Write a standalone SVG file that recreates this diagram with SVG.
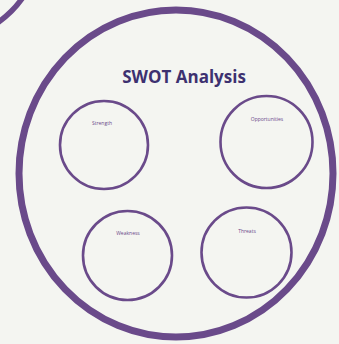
<svg xmlns="http://www.w3.org/2000/svg" width="339" height="344" viewBox="0 0 339 344">
  <style>
    .ring { fill: none; stroke: #6a4a8a; }
    .small { stroke-width: 2.6; }
    .lbl { font-family: "Open Sans", "Liberation Sans", sans-serif; font-size: 5px; fill: #6a4a8a; text-anchor: middle; }
    .title { font-family: "Open Sans", "Liberation Sans", sans-serif; font-size: 17px; font-weight: bold; fill: #3d3170; text-anchor: middle; }
  </style>
  <rect width="339" height="344" fill="#f4f5f1"/>
  <circle cx="-58" cy="-58" r="98" class="ring" stroke-width="5.5"/>
  <ellipse cx="176" cy="173.5" rx="157" ry="163.5" class="ring" stroke-width="7"/>
  <text class="title" x="184" y="83">SWOT Analysis</text>
  <g id="strength">
    <circle cx="104" cy="145" r="44" class="ring small"/>
    <text class="lbl" x="102" y="125">Strength</text>
  </g>
  <g id="opportunities">
    <circle cx="266.5" cy="142" r="46" class="ring small"/>
    <text class="lbl" x="267" y="121">Opportunities</text>
  </g>
  <g id="weakness">
    <circle cx="127.5" cy="255.5" r="44.5" class="ring small"/>
    <text class="lbl" x="128" y="235">Weakness</text>
  </g>
  <g id="threats">
    <circle cx="246.5" cy="252.5" r="45" class="ring small"/>
    <text class="lbl" x="247" y="233">Threats</text>
  </g>
</svg>
